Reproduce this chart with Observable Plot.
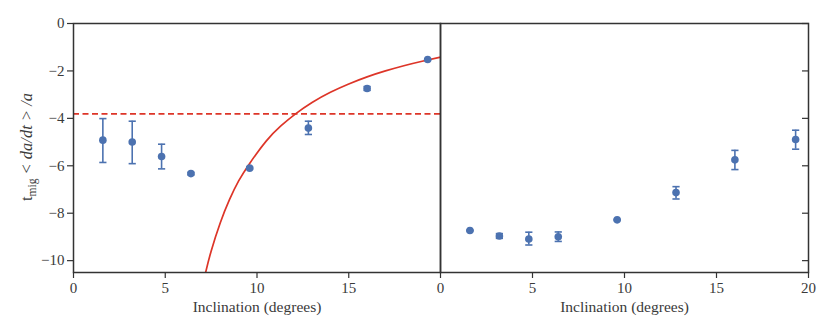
<!DOCTYPE html>
<html>
<head>
<meta charset="utf-8">
<script src="https://cdn.jsdelivr.net/npm/d3@7"></script>
<script src="https://cdn.jsdelivr.net/npm/@observablehq/plot@0.6"></script>
<style>
  html, body { margin: 0; padding: 0; background: #fff; }
  #chart { position: relative; width: 830px; height: 332px; }
  #chart > svg { position: absolute; top: 0; }
  #chart svg, #chart svg text { font-family: "Liberation Serif", "DejaVu Serif", "Times New Roman", serif !important; }
</style>
</head>
<body>
<div id="chart"></div>
<script>
// ---- Data ----
// Left panel
const leftInc   = [1.6, 3.2, 4.8, 6.4, 9.6, 12.8, 16.0, 19.3];
const leftVal   = [-4.92, -5.0, -5.61, -6.33, -6.1, -4.41, -2.74, -1.52];
const leftLo    = [-5.86, -5.91, -6.13, -6.38, -6.14, -4.68, -2.82, -1.55];
const leftHi    = [-4.01, -4.12, -5.09, -6.28, -6.06, -4.12, -2.66, -1.49];
// Right panel
const rightInc  = [1.6, 3.2, 4.8, 6.4, 9.6, 12.8, 16.0, 19.3];
const rightVal  = [-8.73, -8.96, -9.09, -8.99, -8.28, -7.13, -5.75, -4.89];
const rightLo   = [-8.75, -9.06, -9.34, -9.19, -8.30, -7.40, -6.16, -5.30];
const rightHi   = [-8.71, -8.86, -8.80, -8.79, -8.26, -6.88, -5.35, -4.50];
// Red model curve (left panel)
const curveInc  = [7.2, 7.5, 8.0, 8.5, 9.0, 9.6, 10.5, 11.3, 12.1, 13.0, 14.0, 15.0, 16.0, 17.0, 18.0, 19.0, 20.0];
const curveVal  = [-10.5, -9.6, -8.4, -7.43, -6.64, -5.9, -4.96, -4.32, -3.81, -3.33, -2.9, -2.55, -2.25, -2.0, -1.78, -1.59, -1.42];
// Dashed reference level
const refLevel  = [-3.81];
// Ticks
const yTicks     = [0, -2, -4, -6, -8, -10];
const xTicksLeft = [0, 5, 10, 15];
const xTicksRight= [0, 5, 10, 15, 20];
const xLabel = "Inclination (degrees)";

const blue = "#4c72b0";
const red = "#dd3528";
const axisColor = "#333";
const textColor = "#3a3a3a";
const serif = '"Liberation Serif", "DejaVu Serif", "Times New Roman", serif';
const fmt = d => d === 0 ? "0" : (d < 0 ? "\u2212" + Math.abs(d) : String(d));

const table = (xs, v, lo, hi) => xs.map((x, i) => ({x, v: v[i], lo: lo[i], hi: hi[i]}));
const leftData = table(leftInc, leftVal, leftLo, leftHi);
const rightData = table(rightInc, rightVal, rightLo, rightHi);
const curve = curveInc.map((x, i) => ({x, v: curveVal[i]}));

const hline = { draw(ctx, size) { const r = Math.sqrt(size / Math.PI); ctx.moveTo(-r, 0); ctx.lineTo(r, 0); } };

const errMarks = (data) => [
  Plot.ruleX(data, {x: "x", y1: "lo", y2: "hi", stroke: blue, strokeWidth: 1.6}),
  Plot.dot(data, {x: "x", y: "lo", symbol: hline, r: 3.6, stroke: blue, strokeWidth: 1.6, fill: "none"}),
  Plot.dot(data, {x: "x", y: "hi", symbol: hline, r: 3.6, stroke: blue, strokeWidth: 1.6, fill: "none"}),
  Plot.dot(data, {x: "x", y: "v", r: 3.8, fill: blue, stroke: "none"})
];

const common = {
  height: 332,
  marginTop: 23,
  marginBottom: 60,
  style: {fontFamily: serif, fontSize: "15px", color: textColor, background: "transparent", overflow: "visible"},
  y: {domain: [-10.5, 0]},
  x: {domain: [0, 20]}
};

const xAxis = (ticks) => Plot.axisX({ticks, tickFormat: fmt, tickSize: 6, tickPadding: 4, label: xLabel, labelAnchor: "center", labelArrow: "none", labelOffset: 39, stroke: axisColor, strokeWidth: 1.2, fill: textColor});

const left = Plot.plot({
  ...common,
  width: 440,
  marginLeft: 73,
  marginRight: 0,
  marks: [
    Plot.ruleY(refLevel, {stroke: red, strokeWidth: 1.6, strokeDasharray: "6,3.5"}),
    Plot.line(curve, {x: "x", y: "v", stroke: red, strokeWidth: 1.7, curve: "natural", clip: true}),
    ...errMarks(leftData),
    Plot.axisY({ticks: yTicks, tickFormat: fmt, tickSize: 6, tickPadding: 3, label: null, stroke: axisColor, strokeWidth: 1.2, fill: textColor}),
    xAxis(xTicksLeft),
    Plot.frame({stroke: axisColor, strokeWidth: 1.5})
  ]
});

const right = Plot.plot({
  ...common,
  width: 390,
  marginLeft: 0,
  marginRight: 22,
  marks: [
    ...errMarks(rightData),
    Plot.axisY({anchor: "right", ticks: yTicks, tickFormat: () => "", tickSize: 7, dx: -7, label: null, stroke: axisColor, strokeWidth: 1.2}),
    xAxis(xTicksRight),
    Plot.frame({stroke: axisColor, strokeWidth: 1.5})
  ]
});

const chart = document.getElementById("chart");
left.style.left = "0px";
right.style.left = "440px";
chart.appendChild(left);
chart.appendChild(right);

// Larger x-axis titles
d3.selectAll("#chart svg g[aria-label='x-axis label'] text").style("font-size", "15.5px");

// Y-axis title with subscript (real text)
const svg = d3.select(left);
const t = svg.append("text")
  .attr("transform", "translate(32,147) rotate(-90)")
  .attr("text-anchor", "middle")
  .attr("fill", textColor)
  .style("font-family", serif)
  .style("font-size", "16.5px");
t.append("tspan").text("t");
t.append("tspan").attr("dy", 3.5).style("font-size", "11.5px").text("mig");
t.append("tspan").attr("dy", -3.5).style("font-style", "italic").text(" < da/dt > /a");
</script>
</body>
</html>
